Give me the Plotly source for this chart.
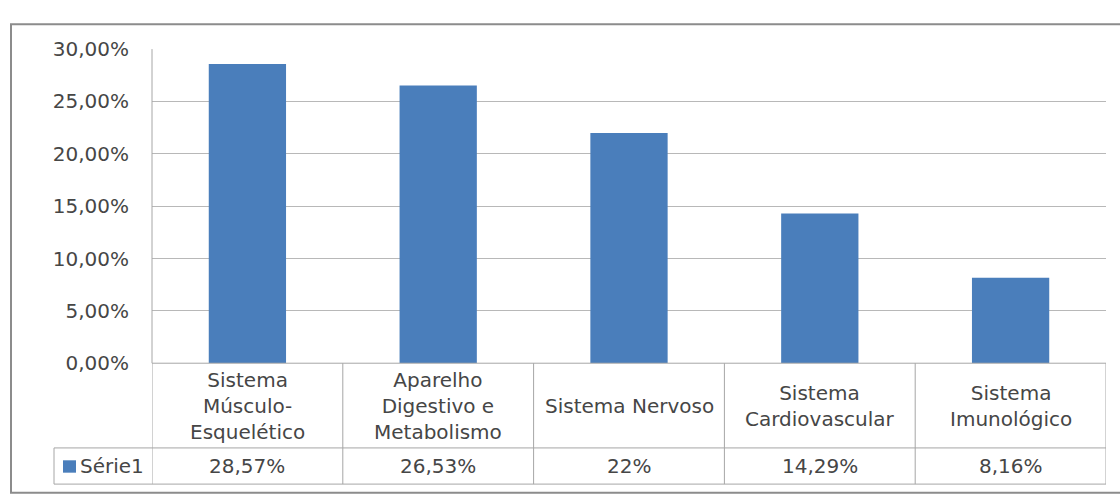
import plotly.graph_objects as go

categories = ["Sistema<br>Músculo-<br>Esquelético",
              "Aparelho<br>Digestivo e<br>Metabolismo",
              "Sistema Nervoso",
              "Sistema<br>Cardiovascular",
              "Sistema<br>Imunológico"]
values = [0.2857, 0.2653, 0.22, 0.1429, 0.0816]
value_labels = ["28,57%", "26,53%", "22%", "14,29%", "8,16%"]
series_name = "Série1"
y_ticks = [0, 0.05, 0.10, 0.15, 0.20, 0.25, 0.30]

W, H = 1120, 498
BAR = "#4A7EBB"
TXT = "#464646"
FONT = "DejaVu Sans"
FS = 20

def py(pix):  # pixel from top -> paper y
    return (H - pix) / H

def px(pix):
    return pix / W

plot_left, plot_right = 152, 1106
plot_top, plot_bottom = 39, 369
row_div, table_bottom = 458, 496
table_left = 54

xs = list(range(len(categories)))

fig = go.Figure()
fig.add_trace(go.Bar(x=xs, y=values, marker_color=BAR, marker_line_width=0,
                     name=series_name, showlegend=False))

shapes = []
line_col = "#a6a6a6"
# outer chart border
shapes.append(dict(type="rect", xref="paper", yref="paper",
                   x0=px(11), x1=px(1125), y0=py(505), y1=py(13),
                   line=dict(color="#8c8c8c", width=2)))
# left axis line
shapes.append(dict(type="line", xref="paper", yref="paper",
                   x0=px(plot_left), x1=px(plot_left), y0=py(plot_bottom), y1=py(plot_top),
                   line=dict(color=line_col, width=1)))
# table horizontal lines
shapes.append(dict(type="line", xref="x", yref="paper", x0=-0.5, x1=len(xs) - 0.5,
                   y0=py(plot_bottom), y1=py(plot_bottom), line=dict(color=line_col, width=1)))
for yy in (row_div, table_bottom):
    shapes.append(dict(type="line", xref="paper", yref="paper", x0=px(table_left), x1=px(plot_right),
                       y0=py(yy), y1=py(yy), line=dict(color=line_col, width=1)))
# table vertical lines
for i in range(len(xs) + 1):
    shapes.append(dict(type="line", xref="x", yref="paper", x0=i - 0.5, x1=i - 0.5,
                       y0=py(table_bottom), y1=py(plot_bottom), line=dict(color=line_col, width=1)))
shapes.append(dict(type="line", xref="paper", yref="paper", x0=px(table_left), x1=px(table_left),
                   y0=py(table_bottom), y1=py(row_div), line=dict(color=line_col, width=1)))
# legend key square
shapes.append(dict(type="rect", xref="paper", yref="paper", x0=px(63), x1=px(76),
                   y0=py(484), y1=py(471), fillcolor=BAR, line=dict(width=0)))

annotations = []
for i, (c, v) in enumerate(zip(categories, value_labels)):
    annotations.append(dict(x=i, xref="x", y=py((plot_bottom + row_div) / 2), yref="paper",
                            text=c, showarrow=False, yanchor="middle", xanchor="center",
                            font=dict(family=FONT, size=FS, color=TXT)))
    annotations.append(dict(x=i, xref="x", y=py((row_div + table_bottom) / 2), yref="paper",
                            text=v, showarrow=False, yanchor="middle", xanchor="center",
                            font=dict(family=FONT, size=FS, color=TXT)))
annotations.append(dict(x=px(78), xref="paper", y=py((row_div + table_bottom) / 2), yref="paper",
                        text=series_name, showarrow=False, yanchor="middle", xanchor="left",
                        font=dict(family=FONT, size=FS, color=TXT)))

fig.update_layout(
    width=W, height=H,
    margin=dict(l=0, r=0, t=0, b=0),
    paper_bgcolor="white", plot_bgcolor="white",
    separators=",.",
    bargap=0.595,
    showlegend=False,
    shapes=shapes,
    annotations=annotations,
    xaxis=dict(domain=[px(plot_left), px(plot_right)], range=[-0.5, len(xs) - 0.5],
               showticklabels=False, showgrid=False, zeroline=False, showline=False,
               fixedrange=True),
    yaxis=dict(domain=[py(plot_bottom), py(plot_top)], range=[0, 0.30],
               tickvals=y_ticks, tickformat=".2%", showgrid=True, gridcolor="#b8b8b8",
               gridwidth=1, zeroline=False, showline=False, ticks="",
               ticklabelstandoff=22,
               tickfont=dict(family=FONT, size=FS, color=TXT), fixedrange=True),
)

fig.write_html("out.html")
